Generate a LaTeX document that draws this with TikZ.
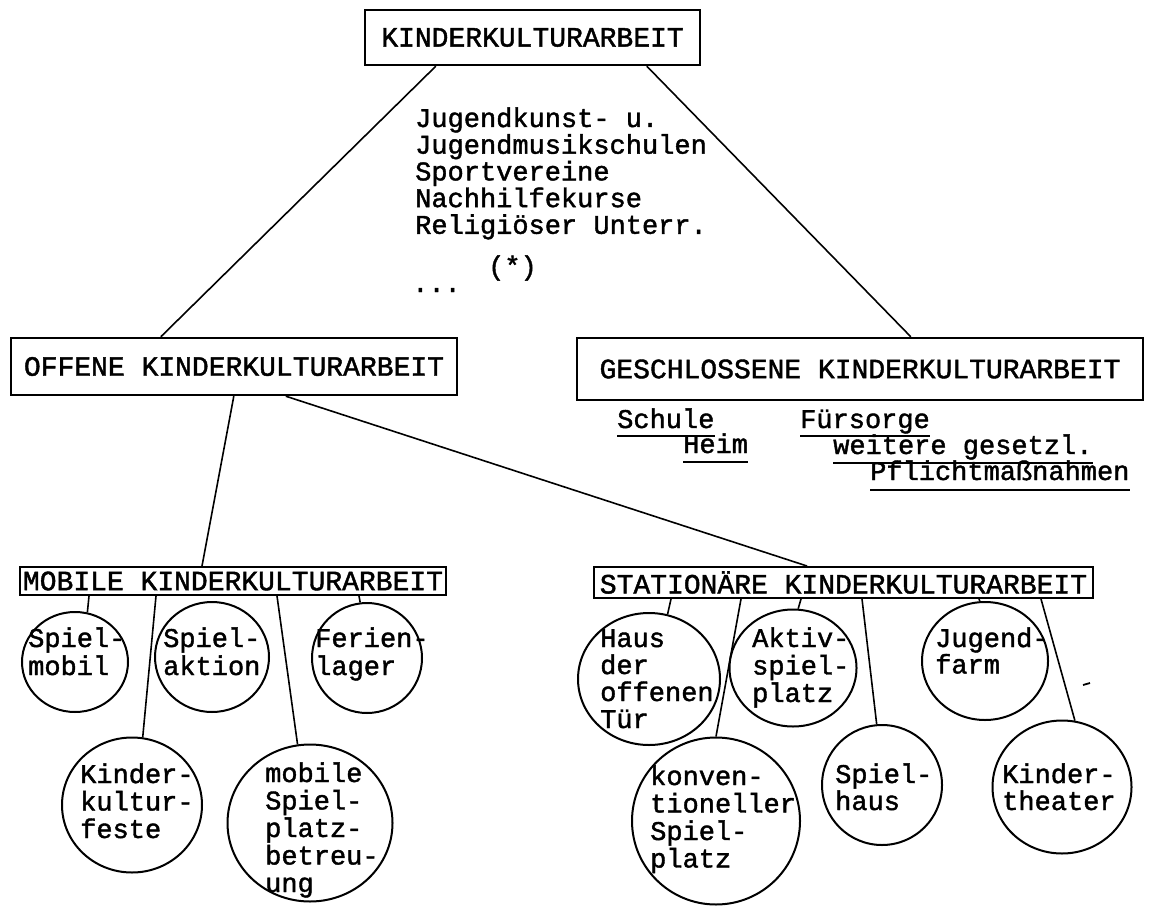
\documentclass[tikz,border=0pt]{standalone}
\usepackage{fontspec}
\setmainfont{Liberation Mono}[BoldFont={Liberation Mono}, BoldFeatures={FakeBold=1.5}]
\usetikzlibrary{shapes.geometric}
\begin{document}
\begin{tikzpicture}[x=1pt,y=-1pt,
  box/.style={draw, line width=2.4pt, rectangle, inner sep=0pt, font=\fontsize{28}{28}\selectfont\bfseries},
  circ/.style={draw, ellipse, line width=2pt, inner sep=0pt},
  tw/.style={inner sep=0pt, anchor=base west, font=\fontsize{27}{27}\selectfont\bfseries},
  con/.style={line width=1.6pt},
  ul/.style={line width=1.8pt}]
\useasboundingbox (0,0) rectangle (1155,909);

% boxes
\node[box, minimum width=335pt, minimum height=55pt] (top) at (532.5,37.5) {KINDERKULTURARBEIT};
\node[box, minimum width=446pt, minimum height=57pt] (off) at (234,366.5) {OFFENE KINDERKULTURARBEIT};
\node[box, minimum width=566pt, minimum height=62pt] (ges) at (860,369) {GESCHLOSSENE KINDERKULTURARBEIT};
\node[box, minimum width=426pt, minimum height=28pt, line width=2pt] (mob) at (233,581) {MOBILE KINDERKULTURARBEIT};
\node[box, minimum width=499pt, minimum height=31pt, line width=2pt] (sta) at (843.5,582.5) {STATIONÄRE KINDERKULTURARBEIT};

% list under top
\foreach \t [count=\i from 0] in {Jugendkunst- u.,Jugendmusikschulen,Sportvereine,Nachhilfekurse,Religiöser Unterr.}
  \node[tw] (l\i) at (415,127+26.7*\i) {\t};
\node[tw] (star) at (488,275) {(*)};
\node[tw] (dots) at (412,292) {...};

% geschlossene items
\node[tw] (sch) at (617,428) {Schule};
\node[tw] (hei) at (683,453) {Heim};
\node[tw] (fue) at (800,428) {Fürsorge};
\node[tw] (wei) at (833,454) {weitere gesetzl.};
\node[tw] (pfl) at (870,480) {Pflichtmaßnahmen};
\foreach \n/\d in {sch/8,hei/9,fue/8,wei/9,pfl/10}
  \draw[ul] ([yshift=-\d pt]\n.base west) -- ([yshift=-\d pt]\n.base east);

% circles
\node[circ, minimum width=106pt, minimum height=100pt] (csm) at (75,662) {};
\node[circ, minimum width=114pt, minimum height=110pt] (csa) at (212,657) {};
\node[circ, minimum width=110pt, minimum height=110pt] (cfl) at (367,658) {};
\node[circ, minimum width=140pt, minimum height=135pt] (ckk) at (132,805) {};
\node[circ, minimum width=165pt, minimum height=157pt] (cms) at (310,823) {};
\node[circ, minimum width=142pt, minimum height=132pt] (cho) at (649,679) {};
\node[circ, minimum width=127pt, minimum height=117pt] (cas) at (793,668) {};
\node[circ, minimum width=168pt, minimum height=167pt] (cks) at (716,821) {};
\node[circ, minimum width=120pt, minimum height=120pt] (csh) at (882,785) {};
\node[circ, minimum width=126pt, minimum height=118pt] (cjf) at (985,661) {};
\node[circ, minimum width=139pt, minimum height=133pt] (ckt) at (1062,787) {};

% circle texts
\foreach \t [count=\i from 0] in {Spiel-,mobil} \node[tw] (tsm\i) at (28,647+28*\i) {\t};
\foreach \t [count=\i from 0] in {Spiel-,aktion} \node[tw] (tsa\i) at (163,647+28*\i) {\t};
\foreach \t [count=\i from 0] in {Ferien-,lager} \node[tw] (tfl\i) at (315,647+28*\i) {\t};
\foreach \t [count=\i from 0] in {Kinder-,kultur-,feste} \node[tw] (tkk\i) at (80,783+27.5*\i) {\t};
\foreach \t [count=\i from 0] in {mobile,Spiel-,platz-,betreu-,ung} \node[tw] (tms\i) at (265,782+27.5*\i) {\t};
\foreach \t [count=\i from 0] in {Haus,der,offenen,Tür} \node[tw] (tho\i) at (600,647+27*\i) {\t};
\foreach \t [count=\i from 0] in {Aktiv-,spiel-,platz} \node[tw] (tas\i) at (752,647+27.5*\i) {\t};
\foreach \t [count=\i from 0] in {konven-,tioneller,Spiel-,platz} \node[tw] (tks\i) at (650,785+27.5*\i) {\t};
\foreach \t [count=\i from 0] in {Spiel-,haus} \node[tw] (tsh\i) at (835,783+27*\i) {\t};
\foreach \t [count=\i from 0] in {Jugend-,farm} \node[tw] (tjf\i) at (935,647+26.5*\i) {\t};
\foreach \t [count=\i from 0] in {Kinder-,theater} \node[tw] (tkt\i) at (1002,783+27*\i) {\t};

% connectors
\draw[con] ([xshift=72pt]top.south west) -- ([xshift=151pt]off.north west);
\draw[con] ([xshift=283pt]top.south west) -- ([xshift=335pt]ges.north west);
\draw[con] ([xshift=224pt]off.south west) -- ([xshift=183pt]mob.north west);
\draw[con] ([xshift=276pt]off.south west) -- ([xshift=214pt]sta.north west);

\draw[con] ([xshift=70pt]mob.south west) -- (csm.76);
\draw[con] ([xshift=137pt]mob.south west) -- (ckk.81);
\draw[con] ([xshift=258pt]mob.south west) -- (cms.99);
\draw[con] ([xshift=340pt]mob.south west) -- (cfl.97);

\draw[con] ([xshift=78pt]sta.south west) -- (cho.74);
\draw[con] ([xshift=148pt]sta.south west) -- (cks.90);
\draw[con] ([xshift=208pt]sta.south west) -- (cas.85);
\draw[con] ([xshift=269pt]sta.south west) -- (csh.95);
\draw[con] ([xshift=386pt]sta.south west) -- (cjf.95);
\draw[con] ([xshift=448pt]sta.south west) -- (ckt.79);

% stray mark
\draw[line width=1.8pt] (1083,685) -- (1090,683);
\end{tikzpicture}
\end{document}
